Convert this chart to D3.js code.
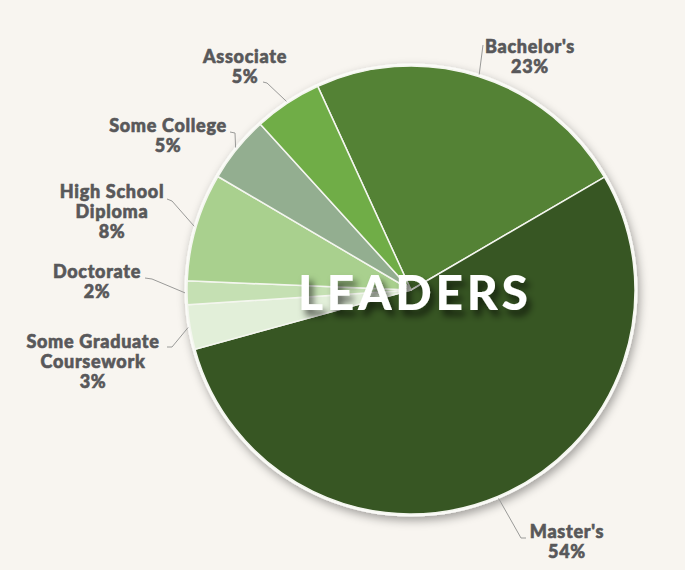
<!DOCTYPE html>
<html>
<head>
<meta charset="utf-8">
<script src="https://d3js.org/d3.v7.min.js"></script>
<style>
  * { margin: 0; padding: 0; }
  body { background: #f8f5f0; width: 685px; height: 570px; overflow: hidden; }
  .lbl { font-family: Lato, "Open Sans", sans-serif; font-weight: 900; font-size: 18px;
         letter-spacing: 0.7px; fill: #58585a; stroke: #58585a; stroke-width: 0.6px; }
</style>
</head>
<body>
<div id="chart"></div>
<script>
  // slices in clockwise order, starting at the Bachelor's edge
  let categories = ["Bachelor's", "Master's", "Some Graduate Coursework", "Doctorate",
                    "High School Diploma", "Some College", "Associate"];
  let shares = [23.4, 54.1, 3.2, 1.7, 7.8, 4.8, 4.9];
  let pctLabels = ["23%", "54%", "3%", "2%", "8%", "5%", "5%"];
  let nameLines = [["Bachelor's"], ["Master's"], ["Some Graduate", "Coursework"], ["Doctorate"],
                   ["High School", "Diploma"], ["Some College"], ["Associate"]];
  let colors = ["#548235", "#375623", "#e2efd9", "#c5e0b3", "#a9d08e", "#93ae90", "#70ad47"];

  let width = 685, height = 570;
  let cx = 411, cy = 290, r = 224;

  // label layout: text centre x, first baseline y, leader start + elbow
  let layout = [
    { x: 530, y: 53, lead: [[483, 45]] },
    { x: 567, y: 538, lead: [[526, 538], [521, 538]] },
    { x: 93, y: 348, lead: [[167, 347], [172, 347]] },
    { x: 97, y: 278, lead: [[145, 278], [152, 279]] },
    { x: 112, y: 198, lead: [[167, 199], [172, 201]] },
    { x: 168, y: 132, lead: [[230, 132], [235, 133]] },
    { x: 245, y: 63, lead: [[263, 82], [267, 83]] }
  ];

  let svg = d3.select("#chart").append("svg")
    .attr("width", width).attr("height", height);

  let defs = svg.append("defs");
  defs.append("filter").attr("id", "pieShadow")
    .attr("x", "-20%").attr("y", "-20%").attr("width", "140%").attr("height", "140%")
    .append("feDropShadow")
    .attr("dx", 2).attr("dy", 4).attr("stdDeviation", 5)
    .attr("flood-color", "#000").attr("flood-opacity", 0.35);
  defs.append("filter").attr("id", "textShadow")
    .attr("x", "-20%").attr("y", "-40%").attr("width", "140%").attr("height", "180%")
    .append("feDropShadow")
    .attr("dx", 4).attr("dy", 6).attr("stdDeviation", 3.5)
    .attr("flood-color", "#000").attr("flood-opacity", 0.6);

  let startA = -24.6 * Math.PI / 180;
  let pie = d3.pie().sort(null).value(d => d)
    .startAngle(startA).endAngle(startA + 2 * Math.PI);
  let arcs = pie(shares);
  let arc = d3.arc().innerRadius(0).outerRadius(r);

  let g = svg.append("g").attr("transform", `translate(${cx},${cy})`);

  g.append("circle").attr("r", r + 2.5).attr("fill", "#fbfbf8")
    .attr("filter", "url(#pieShadow)");

  g.selectAll("path.slice").data(arcs).enter().append("path")
    .attr("class", "slice")
    .attr("d", arc)
    .attr("fill", (d, i) => colors[i])
    .attr("stroke", "#f4f6ef")
    .attr("stroke-width", 1.5)
    .attr("stroke-linejoin", "round");

  // leader lines
  let line = d3.line();
  arcs.forEach((d, i) => {
    let a = (d.startAngle + d.endAngle) / 2;
    let end = [cx + (r + 2) * Math.sin(a), cy - (r + 2) * Math.cos(a)];
    svg.append("path")
      .attr("d", line(layout[i].lead.concat([end])))
      .attr("fill", "none")
      .attr("stroke", "#9a9a98")
      .attr("stroke-width", 1);
  });

  // category labels
  arcs.forEach((d, i) => {
    let t = svg.append("text").attr("class", "lbl")
      .attr("text-anchor", "middle");
    let rows = nameLines[i].concat([pctLabels[i]]);
    rows.forEach((s, k) => {
      t.append("tspan").attr("x", layout[i].x).attr("y", layout[i].y + k * 20).text(s);
    });
  });

  // centre title
  svg.append("text")
    .attr("x", 298).attr("y", 310)
    .attr("textLength", 230).attr("lengthAdjust", "spacing")
    .attr("font-family", "Lato, 'Open Sans', sans-serif")
    .attr("font-weight", 900)
    .attr("font-size", 48)
    .attr("fill", "#ffffff")
    .attr("filter", "url(#textShadow)")
    .text("LEADERS");
</script>
</body>
</html>
